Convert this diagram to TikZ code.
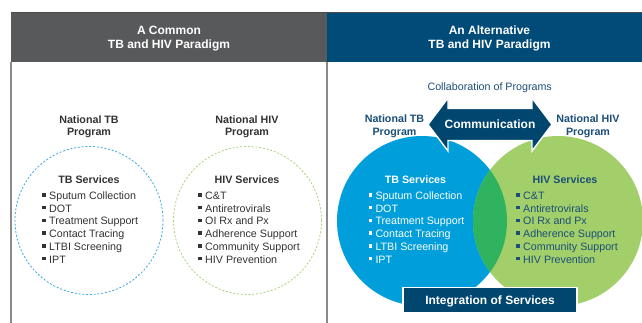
\documentclass[tikz,border=0pt]{standalone}
\usepackage{fontspec}
\setmainfont{Liberation Sans}
\definecolor{headgray}{HTML}{58595B}
\definecolor{headblue}{HTML}{004B78}
\definecolor{arrowblue}{HTML}{00466F}
\definecolor{tbblue}{HTML}{009EDB}
\definecolor{hivgreen}{HTML}{A3CF6A}
\definecolor{lensgreen}{HTML}{2FB35E}
\definecolor{navytext}{HTML}{1B4E79}
\definecolor{graytext}{HTML}{333333}
\definecolor{dashblue}{HTML}{3AA9DE}
\definecolor{dashgreen}{HTML}{A9D27A}
\definecolor{frame}{HTML}{8A8A8A}
\newcommand{\sqb}{\rule[2.8pt]{3.4pt}{3.4pt}\hspace{3.6pt}}
\begin{document}
\begin{tikzpicture}[x=1pt,y=-1pt,
  headtxt/.style={font=\bfseries\fontsize{12}{14}\selectfont, text=white, anchor=base, inner sep=0},
  progtxt/.style={font=\bfseries\fontsize{10.7}{12.5}\selectfont, anchor=base, inner sep=0},
  itemtxt/.style={font=\fontsize{10.7}{12.5}\selectfont, anchor=base west, inner sep=0},
  dashcirc/.style={circle, draw, line width=0.8pt, dash pattern=on 2pt off 1.8pt, minimum size=148pt, inner sep=0},
  frameline/.style={draw=frame, line width=1.3pt}]
\useasboundingbox (0,0) rectangle (642,323);
\fill[white] (0,0) rectangle (642,323);
% headers
\fill[headgray] (11,12) rectangle (327,62);
\fill[headblue] (327,12) rectangle (642,62);
\draw[draw=black!70, line width=0.8pt] (11,12) -- (642,12);
\draw[frameline] (11,62) -- (11,323);
\draw[frameline] (327,62) -- (327,323);
\node[headtxt] (h1a) at (169,34.3) {A Common};
\node[headtxt] (h1b) at (169,49) {TB and HIV Paradigm};
\node[headtxt] (h2a) at (489.5,34.3) {An Alternative};
\node[headtxt] (h2b) at (489.5,49) {TB and HIV Paradigm};
% ---------- left panel ----------
\node[progtxt, text=graytext] (ltb1) at (89,123.3) {National TB};
\node[progtxt, text=graytext] (ltb2) at (89,135.8) {Program};
\node[progtxt, text=graytext] (lhiv1) at (247,123.3) {National HIV};
\node[progtxt, text=graytext] (lhiv2) at (247,135.8) {Program};
\node[dashcirc, draw=dashblue] (ltbc) at (89,220.5) {};
\node[dashcirc, draw=dashgreen] (lhivc) at (247.5,220.5) {};
\node[progtxt, text=graytext] (ltbs) at (89,183.8) {TB Services};
\node[progtxt, text=graytext] (lhivs) at (247,183.8) {HIV Services};
\foreach \t [count=\i] in {Sputum Collection, DOT, Treatment Support, Contact Tracing, LTBI Screening, IPT}
  \node[itemtxt, text=graytext] (ltbi\i) at (42,{199.5+12.7*(\i-1)}) {\sqb\t};
\foreach \t [count=\i] in {C\&T, Antiretrovirals, OI Rx and Px, Adherence Support, Community Support, HIV Prevention}
  \node[itemtxt, text=graytext] (lhivi\i) at (198,{199.5+12.7*(\i-1)}) {\sqb\t};
% ---------- right panel ----------
\fill[tbblue] (422,221) circle (85);
\fill[hivgreen] (558,221) circle (85);
\begin{scope}
  \clip (422,221) circle (85);
  \fill[lensgreen] (558,221) circle (85);
\end{scope}
\node[font=\fontsize{10.7}{12.5}\selectfont, text=navytext, anchor=base, inner sep=0] (collab) at (489.7,90.7) {Collaboration of Programs};
\node[progtxt, text=navytext] (rtb1) at (394.5,122.7) {National TB};
\node[progtxt, text=navytext] (rtb2) at (394.5,135.2) {Program};
\node[progtxt, text=navytext] (rhiv1) at (588,122.7) {National HIV};
\node[progtxt, text=navytext] (rhiv2) at (588,135.2) {Program};
% double arrow
\filldraw[fill=arrowblue, draw=white, line width=1.4pt, line join=miter]
  (428,124.5) -- (448,98) -- (448,108.5) -- (532,108.5) -- (532,98) -- (552,124.5)
  -- (532,151) -- (532,140.5) -- (448,140.5) -- (448,151) -- cycle;
\node[headtxt] (comm) at (490,128.5) {Communication};
\node[progtxt, text=white] (rtbs) at (415.5,183.8) {TB Services};
\node[progtxt, text=navytext] (rhivs) at (565,183.8) {HIV Services};
\foreach \t [count=\i] in {Sputum Collection, DOT, Treatment Support, Contact Tracing, LTBI Screening, IPT}
  \node[itemtxt, text=white] (rtbi\i) at (368.3,{199.5+12.7*(\i-1)}) {\sqb\t};
\foreach \t [count=\i] in {C\&T, Antiretrovirals, OI Rx and Px, Adherence Support, Community Support, HIV Prevention}
  \node[itemtxt, text=navytext] (rhivi\i) at (516,{199.5+12.7*(\i-1)}) {\sqb\t};
% integration box
\filldraw[fill=arrowblue, draw=white, line width=1.4pt] (403,287.5) rectangle (577,312.5);
\node[headtxt] (integ) at (490,304) {Integration of Services};
\end{tikzpicture}
\end{document}
